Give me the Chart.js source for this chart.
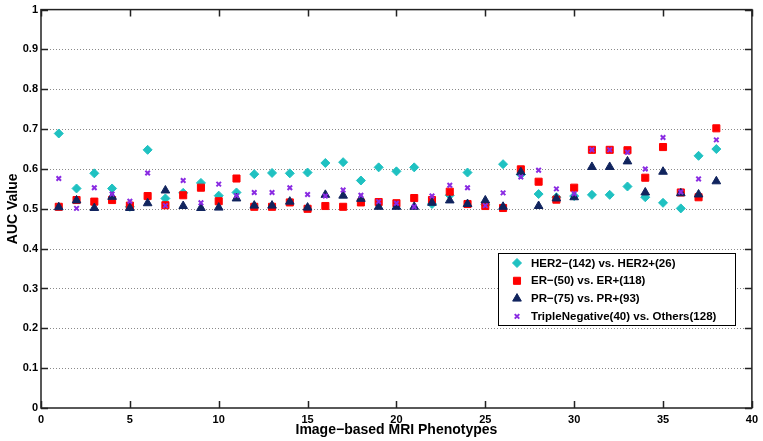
<!DOCTYPE html>
<html>
<head>
<meta charset="utf-8">
<script src="https://cdn.jsdelivr.net/npm/chart.js"></script>
<style>
    html, body { margin: 0; padding: 0; background: #ffffff; }
    #wrap { width: 763px; height: 441px; }
</style>
</head>
<body>
<div id="wrap"><canvas id="aucChart" width="763" height="441"></canvas></div>
<script>
// ===== DATA =====
const phenotypes = [1, 2, 3, 4, 5, 6, 7, 8, 9, 10, 11, 12, 13, 14, 15, 16, 17, 18, 19, 20,
    21, 22, 23, 24, 25, 26, 27, 28, 29, 30, 31, 32, 33, 34, 35, 36, 37, 38];

const her2Auc = [0.689, 0.551, 0.589, 0.551, 0.505, 0.648, 0.526, 0.540, 0.565, 0.533,
    0.541, 0.587, 0.590, 0.589, 0.591, 0.615, 0.617, 0.571, 0.604, 0.594,
    0.604, 0.512, 0.534, 0.591, 0.510, 0.612, 0.586, 0.537, 0.529, 0.532,
    0.535, 0.535, 0.556, 0.529, 0.515, 0.501, 0.633, 0.650];

const erAuc = [0.505, 0.522, 0.518, 0.522, 0.508, 0.532, 0.509, 0.534, 0.553, 0.519,
    0.576, 0.505, 0.505, 0.516, 0.500, 0.507, 0.505, 0.516, 0.517, 0.514,
    0.527, 0.522, 0.543, 0.512, 0.507, 0.502, 0.599, 0.568, 0.523, 0.553,
    0.648, 0.648, 0.647, 0.578, 0.655, 0.541, 0.529, 0.702];

const prAuc = [0.504, 0.521, 0.502, 0.530, 0.502, 0.514, 0.546, 0.507, 0.502, 0.503,
    0.526, 0.508, 0.508, 0.518, 0.503, 0.535, 0.533, 0.525, 0.505, 0.505,
    0.505, 0.515, 0.521, 0.512, 0.521, 0.505, 0.592, 0.507, 0.526, 0.529,
    0.605, 0.605, 0.619, 0.541, 0.593, 0.539, 0.536, 0.569];

const tripleNegAuc = [0.576, 0.501, 0.553, 0.537, 0.519, 0.590, 0.508, 0.571, 0.515, 0.562,
    0.533, 0.541, 0.541, 0.553, 0.536, 0.532, 0.547, 0.534, 0.518, 0.514,
    0.505, 0.532, 0.559, 0.553, 0.508, 0.540, 0.580, 0.597, 0.550, 0.538,
    0.648, 0.648, 0.642, 0.600, 0.679, 0.542, 0.575, 0.673];

const seriesLabels = ['HER2\u2212(142) vs. HER2+(26)', 'ER\u2212(50) vs. ER+(118)',
    'PR\u2212(75) vs. PR+(93)', 'TripleNegative(40) vs. Others(128)'];

const xTicks = [0, 5, 10, 15, 20, 25, 30, 35, 40];
const yTicks = [0, 0.1, 0.2, 0.3, 0.4, 0.5, 0.6, 0.7, 0.8, 0.9, 1];

const FONT = 'Liberation Sans, Arial, Helvetica, sans-serif';

function toPoints(values) {
    return values.map((v, i) => ({ x: phenotypes[i], y: v }));
}

// ===== DOTTED GRID, FRAME, INWARD TICKS AND LEGEND =====
const matlabFrame = {
    id: 'matlabFrame',
    beforeDatasetsDraw(chart) {
        const ctx = chart.ctx;
        const area = chart.chartArea;
        const ys = chart.scales.y;
        ctx.save();
        ctx.strokeStyle = '#8a8a8a';
        ctx.lineWidth = 1;
        ctx.setLineDash([1, 2]);
        ctx.beginPath();
        yTicks.slice(1, -1).forEach(t => {
            const py = Math.round(ys.getPixelForValue(t)) + 0.5;
            ctx.moveTo(area.left, py);
            ctx.lineTo(area.right, py);
        });
        ctx.stroke();
        ctx.restore();
    },
    afterDraw(chart) {
        const ctx = chart.ctx;
        const area = chart.chartArea;
        const xs = chart.scales.x;
        const ys = chart.scales.y;
        const tickLen = 7;

        ctx.save();
        ctx.strokeStyle = '#222222';
        ctx.lineWidth = 1.5;
        ctx.strokeRect(area.left, area.top, area.right - area.left, area.bottom - area.top);

        ctx.beginPath();
        xTicks.forEach(t => {
            const px = Math.round(xs.getPixelForValue(t)) + 0.5;
            ctx.moveTo(px, area.bottom);
            ctx.lineTo(px, area.bottom - tickLen);
            ctx.moveTo(px, area.top);
            ctx.lineTo(px, area.top + tickLen);
        });
        yTicks.forEach(t => {
            const py = Math.round(ys.getPixelForValue(t)) + 0.5;
            ctx.moveTo(area.left, py);
            ctx.lineTo(area.left + tickLen, py);
            ctx.moveTo(area.right, py);
            ctx.lineTo(area.right - tickLen, py);
        });
        ctx.stroke();

        // Legend box
        const box = { left: 498, top: 253, width: 237, height: 72 };
        ctx.fillStyle = '#ffffff';
        ctx.fillRect(box.left, box.top, box.width, box.height);
        ctx.strokeStyle = '#000000';
        ctx.lineWidth = 1;
        ctx.strokeRect(box.left + 0.5, box.top + 0.5, box.width, box.height);

        ctx.font = 'bold 11.5px ' + FONT;
        ctx.textBaseline = 'middle';
        ctx.textAlign = 'left';
        chart.data.datasets.forEach((ds, i) => {
            const y = box.top + 10 + i * 17.8;
            const style = {
                pointStyle: ds.pointStyle,
                radius: ds.legendRadius,
                borderWidth: ds.borderWidth,
                rotation: 0
            };
            ctx.fillStyle = ds.backgroundColor;
            ctx.strokeStyle = ds.borderColor;
            ctx.lineWidth = ds.borderWidth;
            Chart.helpers.drawPoint(ctx, style, box.left + 19, y);
            ctx.fillStyle = '#000000';
            ctx.fillText(ds.label, box.left + 33, y + 0.5);
        });
        ctx.restore();
    }
};

// ===== CHART =====
const ctx = document.getElementById('aucChart');
new Chart(ctx, {
    type: 'scatter',
    data: {
        datasets: [{
            label: seriesLabels[0],
            data: toPoints(her2Auc),
            pointStyle: 'rectRot',
            pointRadius: 4.5,
            legendRadius: 4.5,
            backgroundColor: '#1fc1c1',
            borderColor: '#1fc1c1',
            borderWidth: 1,
            order: 4
        }, {
            label: seriesLabels[1],
            data: toPoints(erAuc),
            pointStyle: 'rect',
            pointRadius: 5,
            legendRadius: 5,
            backgroundColor: '#ff0000',
            borderColor: '#ff0000',
            borderWidth: 1,
            order: 3
        }, {
            label: seriesLabels[2],
            data: toPoints(prAuc),
            pointStyle: 'triangle',
            pointRadius: 5,
            legendRadius: 5,
            backgroundColor: '#11245e',
            borderColor: '#11245e',
            borderWidth: 1,
            order: 2
        }, {
            label: seriesLabels[3],
            data: toPoints(tripleNegAuc),
            pointStyle: 'crossRot',
            pointRadius: 3.2,
            legendRadius: 3.2,
            backgroundColor: '#8a2be2',
            borderColor: '#8a2be2',
            borderWidth: 2,
            order: 1
        }]
    },
    options: {
        responsive: false,
        animation: false,
        events: [],
        layout: {
            padding: { top: 7, right: 8, left: 0, bottom: 0 }
        },
        plugins: {
            legend: { display: false },
            tooltip: { enabled: false }
        },
        scales: {
            x: {
                type: 'linear',
                min: 0,
                max: 40,
                afterBuildTicks: scale => { scale.ticks = xTicks.map(v => ({ value: v })); },
                afterFit: scale => { scale.height = 33; },
                grid: { display: false, drawTicks: false },
                border: { display: false },
                ticks: {
                    padding: 5,
                    maxRotation: 0,
                    color: '#000000',
                    callback: v => String(v),
                    font: { family: FONT, size: 11, weight: 'bold' }
                },
                title: {
                    display: true,
                    text: 'Image\u2212based MRI Phenotypes',
                    color: '#000000',
                    padding: { top: 0, bottom: 2 },
                    font: { family: FONT, size: 14, weight: 'bold' }
                }
            },
            y: {
                min: 0,
                max: 1,
                afterBuildTicks: scale => { scale.ticks = yTicks.map(v => ({ value: v })); },
                afterFit: scale => { scale.width = 41; },
                grid: { display: false, drawTicks: false },
                border: { display: false },
                ticks: {
                    padding: 3,
                    color: '#000000',
                    callback: v => String(Math.round(v * 10) / 10),
                    font: { family: FONT, size: 11, weight: 'bold' }
                },
                title: {
                    display: true,
                    text: 'AUC Value',
                    color: '#000000',
                    padding: { top: 5, bottom: 0 },
                    font: { family: FONT, size: 14, weight: 'bold' }
                }
            }
        }
    },
    plugins: [matlabFrame]
});
</script>
</body>
</html>
